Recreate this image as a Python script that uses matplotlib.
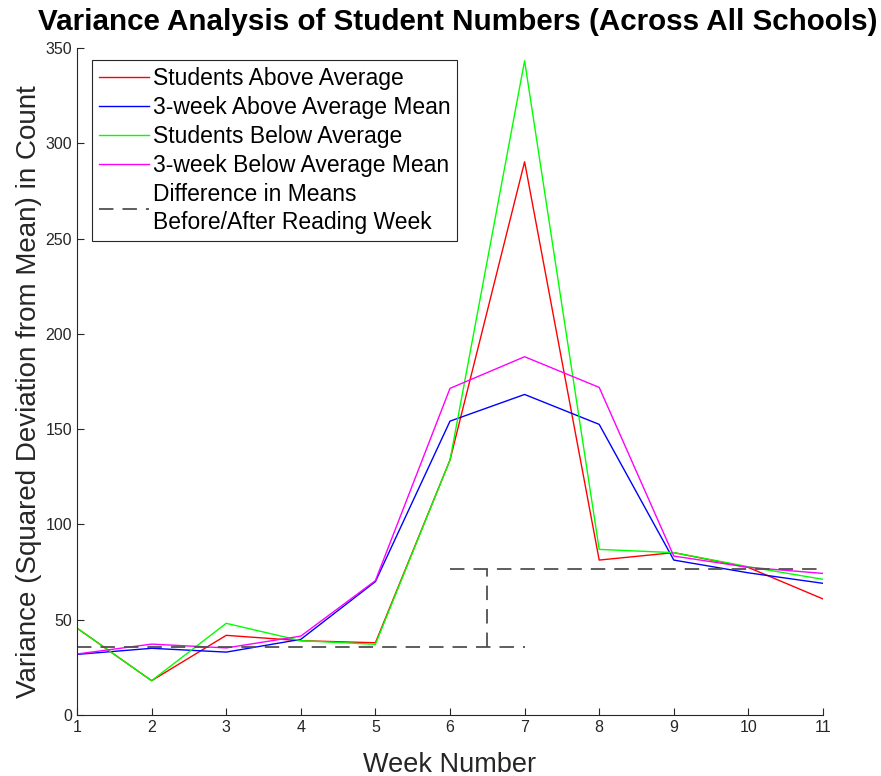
import matplotlib
matplotlib.use("Agg")
import matplotlib.pyplot as plt

plt.rcParams['font.family'] = ['Liberation Sans', 'DejaVu Sans']

weeks = [1, 2, 3, 4, 5, 6, 7, 8, 9, 10, 11]
above = [45.6, 18.0, 41.8, 39.0, 37.9, 133.8, 290.3, 81.3, 85.2, 77.4, 60.9]
above_mean = [31.8, 35.0, 33.0, 39.7, 70.0, 154.2, 168.2, 152.5, 81.3, 74.6, 69.1]
below = [45.6, 18.0, 48.1, 39.0, 37.1, 133.8, 343.3, 86.9, 85.2, 77.8, 71.2]
below_mean = [32.0, 37.2, 35.2, 41.4, 70.5, 171.4, 188.0, 171.9, 83.4, 77.5, 74.3]

before_mean = 35.8
after_mean = 76.6
before_span = [1, 7]
after_span = [6, 11]
split_week = 6.5

fig = plt.figure(figsize=(8.81, 7.76), dpi=100)
ax = fig.add_axes([77/881, 1-715/776, (823-77)/881, (715-48)/776])

ax.plot(weeks, above, color='#ff0000', lw=1, label='Students Above Average')
ax.plot(weeks, above_mean, color='#0000ff', lw=1, label='3-week Above Average Mean')
ax.plot(weeks, below, color='#00ff00', lw=1, label='Students Below Average')
ax.plot(weeks, below_mean, color='#ff00ff', lw=1, label='3-week Below Average Mean')
dash = dict(color='#505050', lw=1.3, dashes=(8, 5))
ax.plot(before_span, [before_mean, before_mean], label='Difference in Means\nBefore/After Reading Week', **dash)
ax.plot(after_span, [after_mean, after_mean], **dash)
ax.plot([split_week, split_week], [before_mean, after_mean], **dash)

ax.set_xlim(1, 11)
ax.set_ylim(0, 350)
ax.set_xticks(weeks)
ax.set_yticks(range(0, 351, 50))
ax.tick_params(direction='in', length=5, labelsize=11.5, colors='#262626', width=0.8)
for s in ['top', 'right']:
    ax.spines[s].set_visible(False)
for s in ['left', 'bottom']:
    ax.spines[s].set_color('#262626')
    ax.spines[s].set_linewidth(0.8)

ax.set_xlabel('Week Number', fontsize=19.5, color='#262626', labelpad=12)
ax.set_ylabel('Variance (Squared Deviation from Mean) in Count', fontsize=20, color='#262626')
ax.yaxis.set_label_coords(-0.047, (715-392)/667)
fig.text(457.5/881, 1-22/776, 'Variance Analysis of Student Numbers (Across All Schools)',
         fontsize=21.3, fontweight='bold', ha='center', va='center')

leg = ax.legend(loc='upper left', bbox_to_anchor=(15/746, 1-12/667), fontsize=16.5,
                handlelength=2.2, handletextpad=0.15, borderpad=0.3, labelspacing=0.26,
                fancybox=False, framealpha=1, edgecolor='#262626', borderaxespad=0)
leg.get_frame().set_linewidth(0.8)
leg.get_texts()[4].set_linespacing(1.3)

fig.savefig('out.png', dpi=100)
